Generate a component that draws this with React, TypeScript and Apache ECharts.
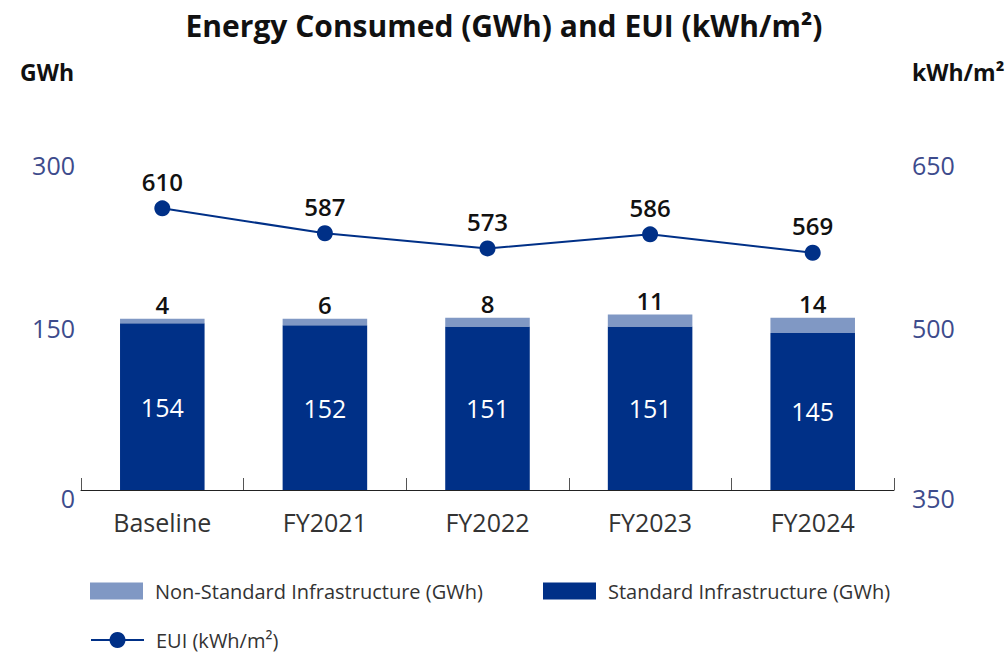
import React, { useEffect, useRef } from "react";
import * as echarts from "echarts";

const categories = ["Baseline", "FY2021", "FY2022", "FY2023", "FY2024"];
const standardGWh = [154, 152, 151, 151, 145];
const nonStandardGWh = [4, 6, 8, 11, 14];
const euiValues = [610, 587, 573, 586, 569];

const DARK = "#003087";
const LIGHT = "#8098c4";
const AXIS_LABEL = "#3d4b8c";
const FONT = "Open Sans";

export default function App() {
  const ref = useRef<HTMLDivElement>(null);
  useEffect(() => {
    if (!ref.current) return;
    const chart = echarts.init(ref.current, null, { renderer: "svg" });
    const zeroRich = {
      z: { fontSize: 25, color: AXIS_LABEL, fontFamily: FONT, padding: [16, 0, 0, 0] },
    };
    const legendText = { fontSize: 20, color: "#333", fontFamily: FONT, padding: [0, 0, 0, 7] };
    chart.setOption({
      animation: false,
      textStyle: { fontFamily: FONT },
      title: {
        text: "Energy Consumed (GWh) and EUI (kWh/m²)",
        left: "center",
        top: 5,
        textStyle: { fontSize: 30, fontWeight: "bold", color: "#111", fontFamily: FONT },
      },
      graphic: [
        {
          type: "text",
          left: 20,
          top: 60,
          style: { text: "GWh", fontSize: 23, fontWeight: "bold", fill: "#111", fontFamily: FONT },
        },
        {
          type: "text",
          left: 912,
          top: 60,
          style: { text: "kWh/m²", fontSize: 23, fontWeight: "bold", fill: "#111", fontFamily: FONT },
        },
      ],
      grid: { left: 81, right: 114, top: 165, bottom: 166, containLabel: false },
      legend: [
        {
          data: [{ name: "Non-Standard Infrastructure (GWh)", icon: "rect" }],
          left: 85,
          top: 576,
          itemWidth: 53,
          itemHeight: 17,
          selectedMode: false,
          textStyle: legendText,
        },
        {
          data: [{ name: "Standard Infrastructure (GWh)", icon: "rect" }],
          left: 538,
          top: 576,
          itemWidth: 53,
          itemHeight: 17,
          selectedMode: false,
          textStyle: legendText,
        },
        {
          data: ["EUI (kWh/m²)"],
          left: 85,
          top: 625,
          itemWidth: 53,
          itemHeight: 20,
          selectedMode: false,
          textStyle: legendText,
        },
      ],
      xAxis: {
        type: "category",
        data: categories,
        axisLine: { show: true, lineStyle: { color: "#222", width: 1 } },
        axisTick: { show: true, inside: true, length: 12, lineStyle: { color: "#555" } },
        axisLabel: { fontSize: 25, color: "#333", margin: 19, fontFamily: FONT },
      },
      yAxis: [
        {
          type: "value",
          min: 0,
          max: 300,
          interval: 150,
          splitLine: { show: false },
          axisLine: { show: false },
          axisTick: { show: false },
          axisLabel: {
            fontSize: 25,
            color: AXIS_LABEL,
            margin: 6,
            fontFamily: FONT,
            formatter: (v: number) => (v === 0 ? "{z|0}" : String(v)),
            rich: zeroRich,
          },
        },
        {
          type: "value",
          min: 350,
          max: 650,
          interval: 150,
          position: "right",
          splitLine: { show: false },
          axisLine: { show: false },
          axisTick: { show: false },
          axisLabel: {
            fontSize: 25,
            color: AXIS_LABEL,
            margin: 18,
            fontFamily: FONT,
            formatter: (v: number) => (v === 350 ? "{z|350}" : String(v)),
            rich: zeroRich,
          },
        },
      ],
      series: [
        {
          name: "Standard Infrastructure (GWh)",
          type: "bar",
          stack: "gwh",
          barWidth: "52%",
          data: standardGWh,
          itemStyle: { color: DARK },
          label: {
            show: true,
            position: "inside",
            color: "#fff",
            fontSize: 25,
            fontWeight: 500,
            fontFamily: FONT,
          },
        },
        {
          name: "Non-Standard Infrastructure (GWh)",
          type: "bar",
          stack: "gwh",
          barWidth: "52%",
          data: nonStandardGWh,
          itemStyle: { color: LIGHT },
          label: {
            show: true,
            position: "top",
            distance: 2,
            color: "#111",
            fontSize: 24,
            fontWeight: 600,
            fontFamily: FONT,
          },
        },
        {
          name: "EUI (kWh/m²)",
          type: "line",
          yAxisIndex: 1,
          data: euiValues,
          symbol: "circle",
          symbolSize: 16,
          lineStyle: { color: DARK, width: 2 },
          itemStyle: { color: DARK },
          label: {
            show: true,
            position: "top",
            distance: 7,
            color: "#111",
            fontSize: 24,
            fontWeight: 600,
            fontFamily: FONT,
          },
        },
      ],
    });
    return () => chart.dispose();
  }, []);
  return <div ref={ref} style={{ width: 1008, height: 656, position: "absolute", left: 0, top: 0 }} />;
}
